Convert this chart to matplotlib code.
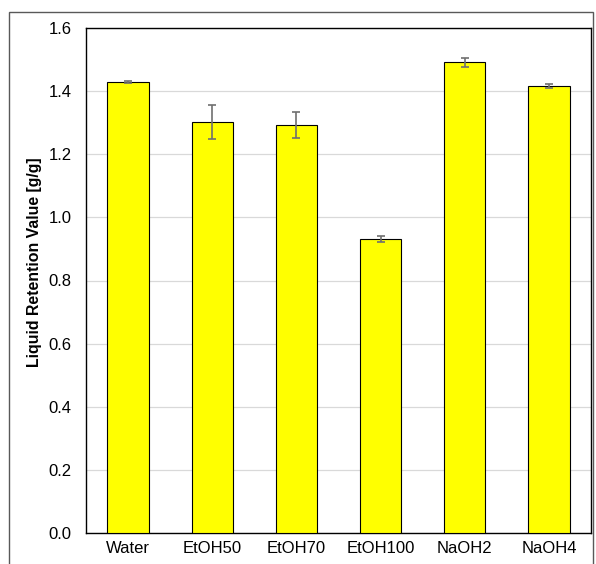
import matplotlib.pyplot as plt
from matplotlib.patches import Rectangle

# Datos
categories = ["Water", "EtOH50", "EtOH70", "EtOH100", "NaOH2", "NaOH4"]
values = [1.428, 1.303, 1.294, 0.931, 1.491, 1.416]
errors = [0.003, 0.054, 0.041, 0.010, 0.015, 0.006]
yticks = [0.0, 0.2, 0.4, 0.6, 0.8, 1.0, 1.2, 1.4, 1.6]

plt.rcParams["font.family"] = ["Liberation Sans", "DejaVu Sans"]

fig = plt.figure(figsize=(5.96, 5.64), dpi=100)
ax = fig.add_axes([86 / 596, 31 / 564, 505 / 596, 505 / 564])

x = list(range(len(categories)))
ax.bar(x, values, width=0.49, color="#ffff00", edgecolor="black",
       linewidth=0.8, zorder=3)
ax.errorbar(x, values, yerr=errors, fmt="none", ecolor="#707070",
            elinewidth=1.2, capsize=3, capthick=1.2, zorder=4)

ax.set_xlim(-0.5, len(categories) - 0.5)
ax.set_ylim(0, 1.6)
ax.set_yticks(yticks)
ax.set_yticklabels([f"{v:.1f}" for v in yticks])
ax.set_xticks(x)
ax.set_xticklabels(categories)
ax.tick_params(axis="both", length=0, labelsize=12)
ax.tick_params(axis="y", pad=10.5)
ax.tick_params(axis="x", pad=6)
ax.grid(axis="y", color="#d9d9d9", linewidth=0.9, zorder=0)
for sp in ax.spines.values():
    sp.set_color("black")
    sp.set_linewidth(1.0)

ax.set_ylabel("Liquid Retention Value [g/g]", fontsize=11.4,
              fontweight="bold")
ax.yaxis.set_label_coords(-0.087, 0.537)

# Marco exterior del área del gráfico
fig.patches.append(Rectangle((9 / 596, -0.01), 584 / 596, 1 - 12 / 564 + 0.01,
                             transform=fig.transFigure, fill=False,
                             edgecolor="#595959", linewidth=1.0))

plt.savefig("out.png", dpi=100)
plt.close()
